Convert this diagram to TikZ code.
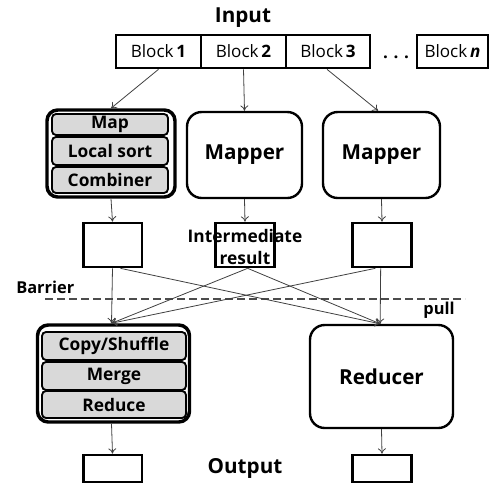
\documentclass[tikz,border=0pt]{standalone}
\usepackage{fontspec}
\setmainfont{Open Sans}
\usetikzlibrary{arrows.meta}
\begin{document}
\begin{tikzpicture}[x=0.75pt,y=-0.75pt,
  lbl/.style={font=\bfseries\fontsize{15.5}{18}\selectfont},
  blk/.style={draw,line width=2pt,minimum height=24.75pt,inner sep=0pt,font=\fontsize{12.8}{15}\selectfont},
  grp/.style={draw,line width=2.6pt,rounded corners=8pt,inner sep=0pt},
  sub/.style={draw,line width=1.4pt,fill=black!15,rounded corners=3pt,inner sep=0pt,font=\bfseries\fontsize{13}{15}\selectfont},
  big/.style={draw,line width=1.8pt,rounded corners=11pt,inner sep=0pt,font=\bfseries\fontsize{15.5}{18}\selectfont},
  res/.style={draw,line width=2pt,inner sep=0pt,minimum width=44pt},
  conn/.style={draw=black!75,line width=0.6pt,-{To[length=4pt,width=6pt]}},
  small/.style={font=\bfseries\fontsize{12.3}{14}\selectfont}]
\useasboundingbox (0,0) rectangle (493,483);

\node[lbl] (input) at (243,18) {Input};
\node[blk,minimum width=63.75pt] (b1) at (158.5,51.5) {Block\,\textbf{1}};
\node[blk,minimum width=63.75pt] (b2) at (243.5,51.5) {Block\,\textbf{2}};
\node[blk,minimum width=63pt] (b3) at (328,51.5) {Block\,\textbf{3}};
\node[anchor=base,font=\bfseries\fontsize{12.8}{15}\selectfont] (dots) at (396,58) {.\,\,.\,\,.};
\node[blk,minimum width=53.25pt] (bn) at (452.5,51.5) {Block\,\textit{\textbf{n}}};

% map group
\node[grp,minimum width=96pt,minimum height=65.25pt] (mg) at (111,153.5) {};
\node[sub,minimum width=87pt,minimum height=15.75pt] (map) at (110,124.5) {Map};
\node[sub,minimum width=87pt,minimum height=21pt] (lsort) at (110,151) {Local sort};
\node[sub,minimum width=87pt,minimum height=19.5pt] (comb) at (110,180) {Combiner};

\node[big,minimum width=86.25pt,minimum height=64.5pt] (mp1) at (244.5,155) {Mapper};
\node[big,minimum width=87.75pt,minimum height=64.5pt] (mp2) at (381.5,155) {Mapper};

\draw[conn] (b1.south) -- (mg.north);
\draw[conn] (b2.south) -- (mp1.north);
\draw[conn] ([xshift=-0.75pt]b3.south) -- ([xshift=-2.5pt]mp2.north);

% intermediate
\node[res,minimum height=33pt] (i1) at (112.5,245) {};
\node[res,minimum height=33pt] (i2) at (245,245) {};
\node[res,minimum height=33pt] (i3) at (382,245) {};
\node[small,align=center,font=\bfseries\fontsize{13}{17}\selectfont] (itxt) at (245,247) {Intermediate\\result};

\draw[conn] (mg.south) -- (i1.north);
\draw[conn] (mp1.south) -- (i2.north);
\draw[conn] (mp2.south) -- (i3.north);

\node[small,anchor=west,inner sep=0pt] (barrier) at (16,287) {Barrier};
\coordinate (dl) at (45,299);
\coordinate (dr) at (465,299);
\draw[black!70,line width=0.8pt,dash pattern=on 6pt off 3pt] (dl) -- (dr);
\node[small,inner sep=0pt] (pull) at (439,310) {pull};

% reduce group
\node[grp,minimum width=114pt,minimum height=72.75pt] (rg) at (113.5,373.5) {};
\node[sub,minimum width=108pt,minimum height=21pt] (copy) at (114,346) {Copy/Shuffle};
\node[sub,minimum width=108pt,minimum height=21pt] (merge) at (114,376) {Merge};
\node[sub,minimum width=108pt,minimum height=20.25pt] (reduce) at (114,404.5) {Reduce};

\node[big,minimum width=107.25pt,minimum height=77.25pt] (red) at (381.5,376.5) {Reducer};

\draw[conn] (i1.south) -- ([xshift=-1.5pt]rg.north);
\draw[conn] ([xshift=6pt]i1.south) -- ([xshift=-1pt]red.north);
\draw[conn] ([xshift=2pt]i2.south) -- ([xshift=-1.5pt]rg.north);
\draw[conn] ([xshift=2pt]i2.south) -- ([xshift=-1pt]red.north);
\draw[conn] ([xshift=-5pt]i3.south) -- ([xshift=-1.5pt]rg.north);
\draw[conn] ([xshift=-1pt]i3.south) -- ([xshift=-1pt]red.north);

% output
\node[res,minimum height=20.25pt] (o1) at (112.5,468.5) {};
\node[res,minimum height=20.25pt] (o2) at (382,468.5) {};
\node[lbl] (output) at (245,468) {Output};
\draw[conn] ([xshift=-1.5pt]rg.south) -- (o1.north);
\draw[conn] (red.south) -- (o2.north);
\end{tikzpicture}
\end{document}
